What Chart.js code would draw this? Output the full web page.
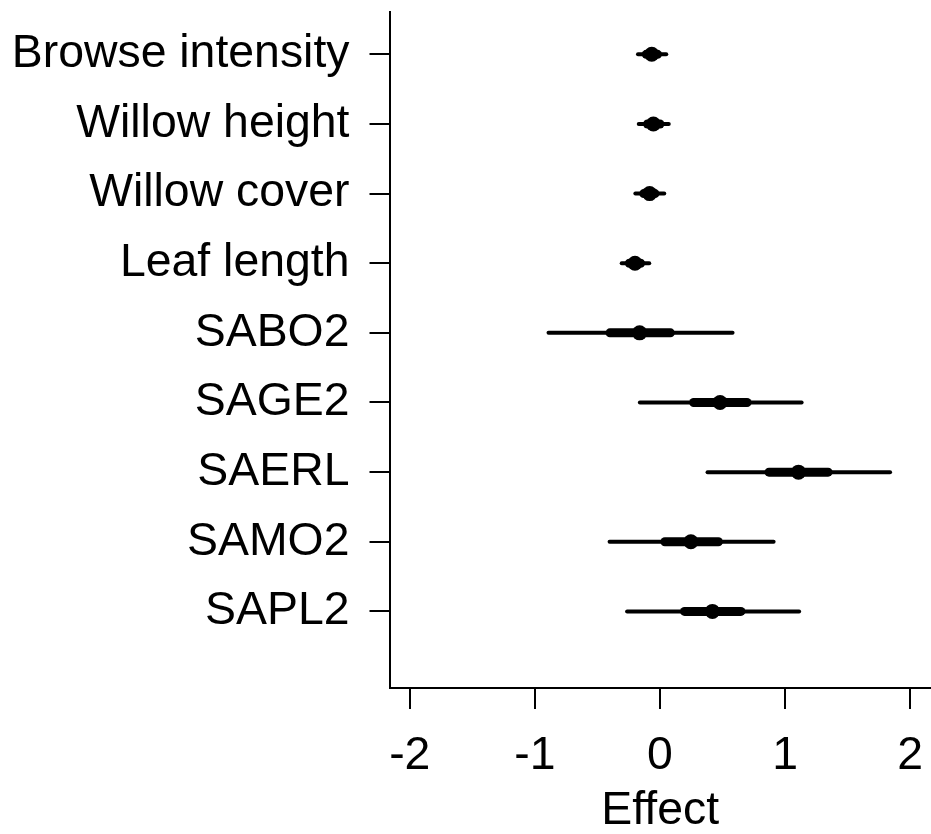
<!DOCTYPE html>
<html>
<head>
<meta charset="utf-8">
<script src="https://cdn.jsdelivr.net/npm/chart.js@4.4.1/dist/chart.umd.min.js"></script>
<style>
html,body{margin:0;padding:0;background:#fff;overflow:hidden;}
#wrap{width:931px;height:834px;position:relative;}
canvas{display:block;}
</style>
</head>
<body>
<div id="wrap"><canvas id="c"></canvas></div>
<script>
const categories = ["Browse intensity","Willow height","Willow cover","Leaf length","SABO2","SAGE2","SAERL","SAMO2","SAPL2"];
const estimate = [-0.066,-0.053,-0.083,-0.200,-0.163,0.480,1.107,0.247,0.419];
const thinLo   = [-0.176,-0.170,-0.197,-0.306,-0.891,-0.161,0.380,-0.403,-0.263];
const thinHi   = [0.050,0.070,0.034,-0.086,0.580,1.132,1.839,0.908,1.112];
const thickLo  = [-0.110,-0.100,-0.130,-0.245,-0.400,0.269,0.871,0.039,0.196];
const thickHi  = [-0.020,0.000,-0.040,-0.155,0.083,0.696,1.344,0.467,0.647];
const xTicks = [-2,-1,0,1,2];
const xTitle = "Effect";

Chart.defaults.font.family = "'Liberation Sans', Arial, sans-serif";
Chart.defaults.color = '#000';

const datasets = [];
datasets.push({
  label:'estimate',
  data: estimate.map((v,i)=>({x:v,y:i+1})),
  pointRadius:7.5, pointHoverRadius:7.5,
  backgroundColor:'#000', borderColor:'#000', borderWidth:0,
  showLine:false, order:0
});
categories.forEach((c,i)=>{
  datasets.push({
    label:c+' inner',
    data:[{x:thickLo[i],y:i+1},{x:thickHi[i],y:i+1}],
    showLine:true, borderColor:'#000', borderWidth:9, borderCapStyle:'round',
    pointRadius:0, order:1
  });
  datasets.push({
    label:c+' outer',
    data:[{x:thinLo[i],y:i+1},{x:thinHi[i],y:i+1}],
    showLine:true, borderColor:'#000', borderWidth:4, borderCapStyle:'round',
    pointRadius:0, order:2
  });
});

new Chart(document.getElementById('c'), {
  type:'scatter',
  data:{datasets},
  options:{
    responsive:true, maintainAspectRatio:false, animation:false,
    layout:{autoPadding:false, padding:{top:11.7,right:0,left:0,bottom:0}},
    plugins:{legend:{display:false},tooltip:{enabled:false}},
    scales:{
      x:{
        type:'linear', min:-2.162, max:2.166,
        afterBuildTicks:(s)=>{s.ticks = xTicks.map(v=>({value:v}));},
        afterFit:(s)=>{s.height = 146; s.paddingLeft = 0; s.paddingRight = 0;},
        grid:{drawOnChartArea:false, drawTicks:true, tickLength:21, color:'#000', lineWidth:2},
        border:{display:true, color:'#000', width:2},
        ticks:{font:{size:46.4}, padding:19, color:'#000', maxRotation:0, autoSkip:false},
        title:{display:true, text:xTitle, font:{size:46.4, lineHeight:1.0}, color:'#000', padding:{top:0,bottom:0}}
      },
      y:{
        type:'linear', reverse:true, min:0.388, max:10.10,
        afterBuildTicks:(s)=>{s.ticks = categories.map((c,i)=>({value:i+1}));},
        afterFit:(s)=>{s.width = 389.5; s.paddingTop = 0; s.paddingBottom = 0;},
        grid:{drawOnChartArea:false, drawTicks:true, tickLength:20, color:'#000', lineWidth:2},
        border:{display:true, color:'#000', width:2},
        ticks:{font:{size:46.4}, padding:20, color:'#000', autoSkip:false,
          callback:(v)=>categories[Math.round(v)-1]}
      }
    }
  }
});
</script>
</body>
</html>
